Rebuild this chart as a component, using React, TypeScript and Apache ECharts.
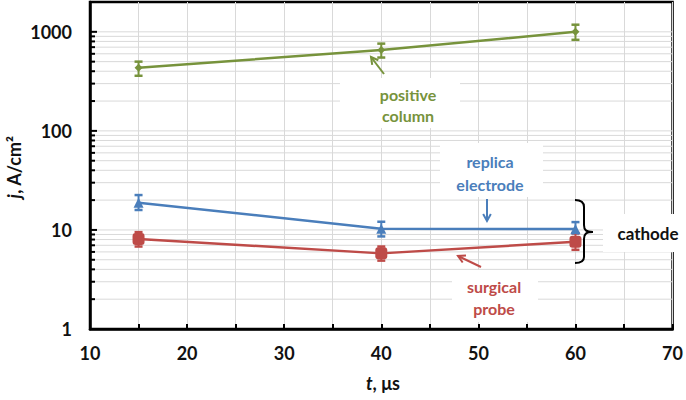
import React, { useEffect, useRef } from "react";
import * as echarts from "echarts";

// ---- data ----
const xValues = [15, 40, 60];
const positiveColumn = [433, 655, 1000];
const positiveLow = [360, 550, 830];
const positiveHigh = [500, 760, 1180];
const replicaElectrode = [18.8, 10.3, 10.2];
const replicaLow = [15.9, 8.6, 9.2];
const replicaHigh = [22.5, 12.1, 12.0];
const surgicalProbe = [8.1, 5.8, 7.6];
const surgicalLow = [6.8, 4.9, 6.3];
const surgicalHigh = [9.5, 6.8, 9.3];
const yMajorTicks = [1, 10, 100, 1000];
const yGridValues = [
  1, 2, 3, 4, 5, 6, 7, 8, 9,
  10, 20, 30, 40, 50, 60, 70, 80, 90,
  100, 200, 300, 400, 500, 600, 700, 800, 900,
  1000, 2000,
];
const xMin = 10;
const xMax = 70;
const yMin = 1;
const yMax = 2000;

const GREEN = "#77933c";
const BLUE = "#4a7ebb";
const RED = "#be4b48";
const GRID = "#d9d9d9";
const FONT = "Lato";

function errorSeries(name: string, color: string, low: number[], high: number[]) {
  return {
    type: "custom",
    name: name + " err",
    z: 3,
    encode: { x: 0, y: [1, 2] },
    data: xValues.map((x, i) => [x, low[i], high[i]]),
    renderItem: (_p: any, api: any) => {
      const x = api.value(0);
      const pLo = api.coord([x, api.value(1)]);
      const pHi = api.coord([x, api.value(2)]);
      const hw = 4;
      return {
        type: "group",
        children: [
          { type: "line", shape: { x1: pLo[0], y1: pLo[1], x2: pHi[0], y2: pHi[1] }, style: { stroke: color, lineWidth: 2 } },
          { type: "line", shape: { x1: pLo[0] - hw, y1: pLo[1], x2: pLo[0] + hw, y2: pLo[1] }, style: { stroke: color, lineWidth: 2.5 } },
          { type: "line", shape: { x1: pHi[0] - hw, y1: pHi[1], x2: pHi[0] + hw, y2: pHi[1] }, style: { stroke: color, lineWidth: 2.5 } },
        ],
      };
    },
  };
}

function lineSeries(name: string, color: string, values: number[], symbol: string, size: number) {
  return {
    type: "line",
    name,
    z: 4,
    data: xValues.map((x, i) => [x, values[i]]),
    symbol,
    symbolSize: size,
    showSymbol: true,
    itemStyle: { color },
    lineStyle: { color, width: 2.5 },
  };
}

function arrow(x1: number, y1: number, x2: number, y2: number, color: string) {
  const ang = Math.atan2(y2 - y1, x2 - x1);
  const L = 8;
  const a1 = ang + Math.PI - 0.5;
  const a2 = ang + Math.PI + 0.5;
  return {
    type: "group",
    z: 6,
    children: [
      { type: "line", z: 6, shape: { x1, y1, x2, y2 }, style: { stroke: color, lineWidth: 2 } },
      {
        type: "polyline",
        z: 6,
        shape: {
          points: [
            [x2 + L * Math.cos(a1), y2 + L * Math.sin(a1)],
            [x2, y2],
            [x2 + L * Math.cos(a2), y2 + L * Math.sin(a2)],
          ],
        },
        style: { stroke: color, lineWidth: 2, fill: "none" },
      },
    ],
  };
}

function label(text: string, x: number, y: number, color: string) {
  return {
    type: "text",
    z: 6,
    x,
    y,
    style: {
      text,
      fill: color,
      font: `bold 16px ${FONT}`,
      align: "center",
      verticalAlign: "middle",
      textAlign: "center",
      textVerticalAlign: "middle",
    },
  };
}

function whiteBox(x: number, y: number, w: number, h: number) {
  return { type: "rect", z: 5, shape: { x, y, width: w, height: h }, style: { fill: "#fff" } };
}

echarts.graphic.registerShape(
  "brace",
  echarts.graphic.extendPath(
    "M0,0 C6,0 9,2 9,7 L9,25 C9,30 11,32 18,32 C11,32 9,34 9,39 L9,57 C9,61 6,63 0,63",
    {}
  )
);

export default function App() {
  const ref = useRef<HTMLDivElement>(null);
  useEffect(() => {
    if (!ref.current) return;
    const chart = echarts.init(ref.current, undefined, { renderer: "svg" });
    const option: any = {
      animation: false,
      grid: {
        left: 90,
        right: 10,
        top: 2,
        bottom: 71,
        show: true,
        borderColor: "#000",
        borderWidth: 2.5,
        backgroundColor: "transparent",
      },
      xAxis: {
        type: "value",
        min: xMin,
        max: xMax,
        interval: 5,
        axisLine: { show: true, lineStyle: { color: "#000", width: 2.5 } },
        axisTick: { show: true, inside: true, length: 5, lineStyle: { color: "#000", width: 2 } },
        splitLine: { show: true, lineStyle: { color: GRID, width: 1 } },
        axisLabel: {
          margin: 15,
          fontFamily: FONT,
          fontWeight: "bold",
          fontSize: 18,
          color: "#111",
          formatter: (v: number) => (v % 10 === 0 ? String(v) : ""),
        },
      },
      yAxis: {
        type: "log",
        logBase: 10,
        min: yMin,
        max: yMax,
        axisLine: { show: true, lineStyle: { color: "#000", width: 2.5 } },
        axisTick: { show: false },
        splitLine: { show: false },
        axisLabel: {
          margin: 18,
          fontFamily: FONT,
          fontWeight: "bold",
          fontSize: 18,
          color: "#111",
          formatter: (v: number) => {
            const m = yMajorTicks.find((t) => Math.abs(t - v) / t < 1e-6);
            return m !== undefined ? String(m) : "";
          },
        },
      },
      series: [
        {
          type: "custom",
          name: "ygrid",
          z: 0,
          silent: true,
          encode: { x: 0, y: 1 },
          data: yGridValues.map((v) => [xMin, v]),
          renderItem: (_p: any, api: any) => {
            const v = api.value(1);
            const a = api.coord([xMin, v]);
            const b = api.coord([xMax, v]);
            const major = yMajorTicks.includes(v);
            const children: any[] = [];
            if (v !== yMin && v !== yMax) {
              children.push({
                type: "line",
                shape: { x1: a[0], y1: a[1], x2: b[0], y2: b[1] },
                style: { stroke: GRID, lineWidth: 1 },
              });
            }
            if (v !== yMax) {
              children.push({
                type: "line",
                shape: { x1: a[0], y1: a[1], x2: a[0] + (major ? 7 : 5), y2: a[1] },
                style: { stroke: "#000", lineWidth: 2 },
              });
            }
            return { type: "group", children };
          },
        },
        errorSeries("positive column", GREEN, positiveLow, positiveHigh),
        errorSeries("replica electrode", BLUE, replicaLow, replicaHigh),
        errorSeries("surgical probe", RED, surgicalLow, surgicalHigh),
        lineSeries("positive column", GREEN, positiveColumn, "diamond", 8),
        lineSeries("replica electrode", BLUE, replicaElectrode, "triangle", 10),
        lineSeries("surgical probe", RED, surgicalProbe, "roundRect", 12),
      ],
      graphic: [
        whiteBox(340, 78, 120, 50),
        label("positive", 408, 94, GREEN),
        label("column", 408, 115, GREEN),
        arrow(384, 74, 371, 57, GREEN),
        whiteBox(440, 143, 103, 54),
        label("replica", 490, 161, BLUE),
        label("electrode", 490, 184, BLUE),
        arrow(487, 199, 487, 221, BLUE),
        whiteBox(452, 270, 86, 52),
        label("surgical", 494, 286, RED),
        label("probe", 494, 308, RED),
        arrow(481, 267, 458, 256, RED),
        whiteBox(603, 214, 83, 38),
        {
          type: "text",
          z: 6,
          x: 648,
          y: 233,
          style: {
            text: "cathode",
            fill: "#111",
            font: `bold 17px ${FONT}`,
            align: "center",
            verticalAlign: "middle",
            textAlign: "center",
            textVerticalAlign: "middle",
          },
        },
        {
          type: "brace",
          z: 6,
          x: 575,
          y: 200,
          style: { stroke: "#000", fill: "none", lineWidth: 2 },
        },
        {
          type: "text",
          z: 6,
          x: 14,
          y: 167,
          rotation: Math.PI / 2,
          style: {
            text: "{i|j}, A/cm²",
            fill: "#111",
            font: `bold 18px ${FONT}`,
            align: "center",
            verticalAlign: "middle",
            textAlign: "center",
            textVerticalAlign: "middle",
            rich: {
              i: { fontStyle: "italic", fontWeight: "bold", fontSize: 18, fontFamily: FONT, fill: "#111" },
            },
          },
        },
        {
          type: "text",
          z: 6,
          x: 383,
          y: 383,
          style: {
            text: "{i|t}, μs",
            fill: "#111",
            font: `bold 18px ${FONT}`,
            align: "center",
            verticalAlign: "middle",
            textAlign: "center",
            textVerticalAlign: "middle",
            rich: {
              i: { fontStyle: "italic", fontWeight: "bold", fontSize: 18, fontFamily: FONT, fill: "#111" },
            },
          },
        },
      ],
    };
    chart.setOption(option);
    return () => chart.dispose();
  }, []);
  return <div ref={ref} style={{ width: 686, height: 400, position: "absolute", left: 0, top: 0 }} />;
}
